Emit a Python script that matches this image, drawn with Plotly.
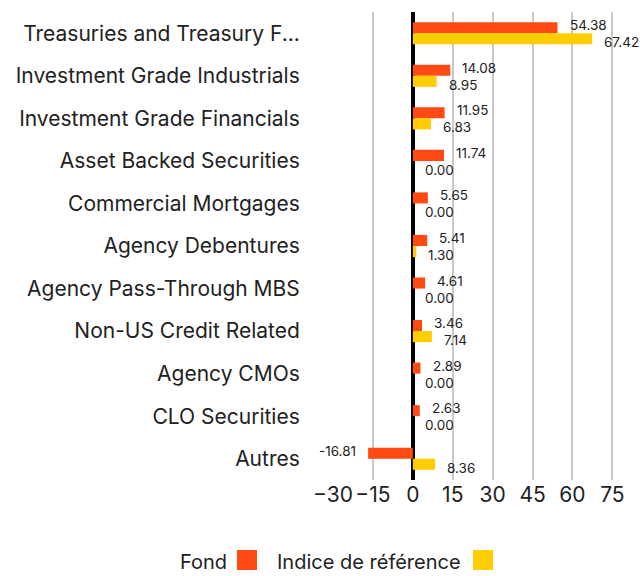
import plotly.graph_objects as go

categories = ["Treasuries and Treasury F...", "Investment Grade Industrials", "Investment Grade Financials",
              "Asset Backed Securities", "Commercial Mortgages", "Agency Debentures",
              "Agency Pass-Through MBS", "Non-US Credit Related", "Agency CMOs", "CLO Securities", "Autres"]
fund = [54.38, 14.08, 11.95, 11.74, 5.65, 5.41, 4.61, 3.46, 2.89, 2.63, -16.81]
bench = [67.42, 8.95, 6.83, 0.00, 0.00, 1.30, 0.00, 7.14, 0.00, 0.00, 8.36]
tick_vals = [-30, -15, 0, 15, 30, 45, 60, 75]
series_names = ["Fond", "Indice de référence"]
colors = ["#FF4A14", "#FFCD00"]
FONT = "Inter"

fig = go.Figure()
for name, vals, col in zip(series_names, [fund, bench], colors):
    fig.add_trace(go.Bar(y=categories, x=vals, orientation="h", name=name,
                         marker=dict(color=col, line=dict(width=0)), showlegend=False))

ann = []
for vals, ys in [(fund, 8), (bench, -9)]:
    for c, v in zip(categories, vals):
        ann.append(dict(x=v, y=c, xref="x", yref="y", text=f"{v:.2f}", showarrow=False,
                        xanchor="right" if v < 0 else "left", xshift=-10 if v < 0 else 10, yshift=ys,
                        font=dict(size=13.5, color="#222", family=FONT)))

# custom legend (text then square); paper coords relative to plot area
legend_items = [("Fond", -0.5065, -0.3137, colors[0]), ("Indice de référence", -0.1895, 0.4575, colors[1])]
for txt, tx, sx, col in legend_items:
    ann.append(dict(x=tx, y=-0.175, xref="paper", yref="paper", xanchor="left", yanchor="middle",
                    text=txt, showarrow=False, font=dict(size=20, color="#222", family=FONT)))

fig.update_layout(
    width=640, height=576, margin=dict(l=333, r=1, t=12, b=96),
    paper_bgcolor="white", plot_bgcolor="white",
    barmode="group", bargap=0.48, bargroupgap=0,
    font=dict(family=FONT, color="#222"),
    annotations=ann,
    xaxis=dict(range=[-30, 85], tickvals=tick_vals, showgrid=True, gridcolor="#c8c8c8", gridwidth=2,
               zeroline=True, zerolinecolor="black", zerolinewidth=4, tickfont=dict(size=21, color="#222"),
               ticks="", fixedrange=True),
    yaxis=dict(autorange="reversed", tickfont=dict(size=21, color="#222"), ticks="outside",
               ticklen=28, tickcolor="rgba(0,0,0,0)", showgrid=False, zeroline=False),
)
for txt, tx, sx, col in legend_items:
    fig.add_shape(type="rect", xref="paper", yref="paper", x0=sx, x1=sx + 0.0654, y0=-0.1923, y1=-0.1496,
                  fillcolor=col, line=dict(width=0))
fig.write_html("out.html")
